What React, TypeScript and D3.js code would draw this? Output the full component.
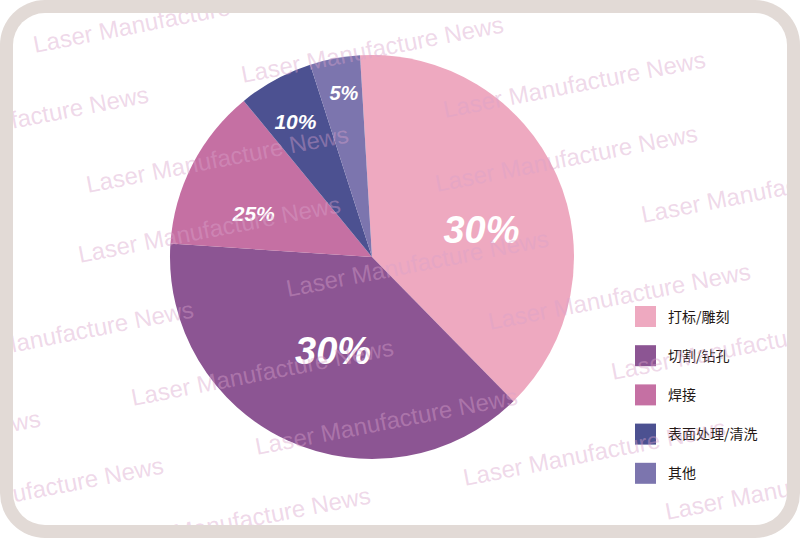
import React from "react";
import * as d3 from "d3";

// ---- data ----
const categories: string[] = ["打标/雕刻", "切割/钻孔", "焊接", "表面处理/清洗", "其他"];
// shares as drawn
const sliceShares: number[] = [38.6, 38.4, 13.0, 6.0, 4.0];
// labels printed on slices
const sliceLabels: string[] = ["30%", "30%", "25%", "10%", "5%"];
const sliceColors: string[] = ["#EEA9C0", "#8C5593", "#C570A3", "#4C5191", "#7C75AE"];

// ---- layout / style ----
const W = 800;
const H = 538;
const CX = 372;
const CY = 257;
const R = 202;
const START_DEG = -3.4;
const labelRadius = [113, 101, 126, 156, 167];
const labelShiftDeg = [9.6, -2, -7, -0.8, 0.9];
const labelFontSize = [38, 38, 21, 21, 20];
const watermarkText = "Laser Manufacture News";
const watermarkAnchors: [number, number][] = [
  [35, 53], [243, 83], [-112, 153], [445, 118], [88, 193], [437, 192], [643, 223],
  [80, 263], [288, 297], [490, 330], [-67, 368], [133, 406], [613, 380], [-220, 477],
  [257, 455], [465, 486], [-97, 524], [110, 554], [667, 520],
];

export default function App() {
  const toRad = (d: number) => (d * Math.PI) / 180;
  const pie = d3
    .pie<number>()
    .sort(null)
    .value((d) => d)
    .startAngle(toRad(START_DEG))
    .endAngle(toRad(START_DEG) + Math.PI * 2);
  const arcs = pie(sliceShares);
  const arc = d3.arc<d3.PieArcDatum<number>>().innerRadius(0).outerRadius(R);

  const legendY = d3.scalePoint<number>().domain(d3.range(categories.length)).range([316.5, 473.3]);

  return (
    <svg
      width={W}
      height={H}
      viewBox={`0 0 ${W} ${H}`}
      style={{ position: "absolute", left: 0, top: 0, background: "#fff" }}
    >
      <defs>
        <clipPath id="inner">
          <rect x={13} y={13} width={774} height={512} rx={32} ry={32} />
        </clipPath>
      </defs>
      <rect x={0} y={0} width={W} height={H} rx={45} ry={45} fill="#E2DAD6" />
      <rect x={13} y={13} width={774} height={512} rx={32} ry={32} fill="#ffffff" />

      <g transform={`translate(${CX},${CY})`}>
        {arcs.map((a, i) => (
          <path key={i} d={arc(a) || ""} fill={sliceColors[i]} />
        ))}
        {arcs.map((a, i) => {
          const mid = (a.startAngle + a.endAngle) / 2 + toRad(labelShiftDeg[i]);
          const x = labelRadius[i] * Math.sin(mid);
          const y = -labelRadius[i] * Math.cos(mid);
          return (
            <text
              key={i}
              x={x}
              y={y}
              dy="0.36em"
              textAnchor="middle"
              fill="#ffffff"
              fontFamily="'Liberation Sans', Arial, sans-serif"
              fontWeight="bold"
              fontStyle="italic"
              fontSize={labelFontSize[i]}
            >
              {sliceLabels[i]}
            </text>
          );
        })}
      </g>

      <g>
        {categories.map((c, i) => (
          <g key={c} transform={`translate(635,${legendY(i)})`}>
            <rect x={0} y={-10.5} width={21} height={21} fill={sliceColors[i]} />
            <text
              x={33}
              y={0}
              dy="0.36em"
              fill="#231815"
              fontFamily="'Noto Sans CJK SC', 'Noto Sans', sans-serif"
              fontSize={14}
            >
              {c}
            </text>
          </g>
        ))}
      </g>

      <g clipPath="url(#inner)">
        {watermarkAnchors.map(([x, y], i) => (
          <text
            key={i}
            transform={`translate(${x},${y}) rotate(-11)`}
            fill="#D9A2CB"
            fillOpacity={0.42}
            fontFamily="'Liberation Sans', Arial, sans-serif"
            fontSize={24}
          >
            {watermarkText}
          </text>
        ))}
      </g>
    </svg>
  );
}
